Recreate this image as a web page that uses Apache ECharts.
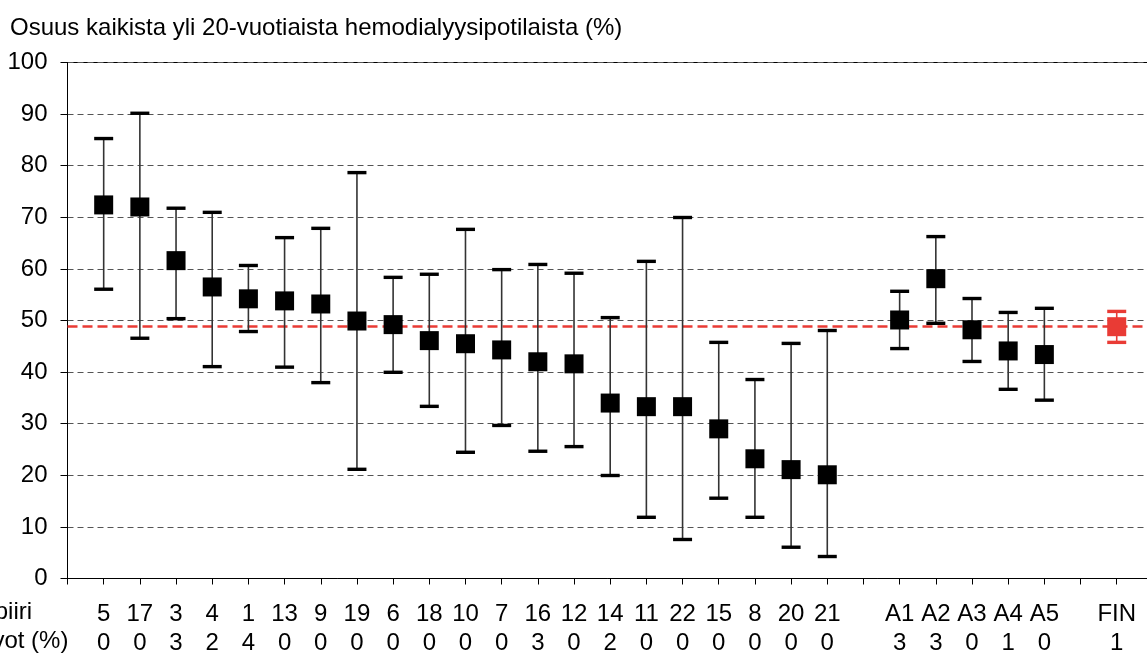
<!DOCTYPE html>
<html>
<head>
<meta charset="utf-8">
<script src="https://cdn.jsdelivr.net/npm/echarts@6/dist/echarts.min.js"></script>
<style>
  html, body { margin: 0; padding: 0; background: #fff; }
  #chart { width: 1147px; height: 655px; }
</style>
</head>
<body>
<div id="chart"></div>
<script>
// ---- Data ----
const categories = ['', '5','17','3','4','1','13','9','19','6','18','10','7','16','12','14','11','22','15','8','20','21','', 'A1','A2','A3','A4','A5','', 'FIN', ''];
const missingPct = ['', '0','0','3','2','4','0','0','0','0','0','0','0','3','0','2','0','0','0','0','0','0','', '3','3','0','1','0','', '1',''];
const means = [null, 72.4,72.0,61.6,56.5,54.2,53.8,53.2,49.9,49.2,46.1,45.5,44.3,42.0,41.6,34.0,33.3,33.3,29.0,23.2,21.1,20.1, null, 50.1,58.1,48.2,44.1,43.4, null, 48.8, null];
const lowers = [null, 56.1,46.6,50.4,41.1,47.9,41.0,38.0,21.2,40.0,33.4,24.5,29.7,24.7,25.6,20.0,11.9,7.6,15.6,11.9,6.1,4.3, null, 44.6,49.5,42.1,36.7,34.6, null, 45.8, null];
const uppers = [null, 85.3,90.2,71.8,71.0,60.7,66.1,67.9,78.7,58.4,59.0,67.7,59.9,60.9,59.2,50.6,61.5,70.0,45.8,38.6,45.6,48.1, null, 55.7,66.3,54.3,51.6,52.4, null, 51.8, null];
const referenceValue = 48.8;
const yTicks = { min: 0, max: 100, interval: 10 };
const titleText = 'Osuus kaikista yli 20-vuotiaista hemodialyysipotilaista (%)';
const rowLabel1 = 'Sairaanhoitopiiri';
const rowLabel2 = 'Puuttuvat arvot (%)';

// ---- Build ----
const FONT = "Arial, 'Liberation Sans', sans-serif";
const RED = '#e93b35';
const errData = [];
categories.forEach((c, i) => {
  if (means[i] != null) errData.push([i, means[i], lowers[i], uppers[i]]);
});

const chart = echarts.init(document.getElementById('chart'));
chart.setOption({
  animation: false,
  textStyle: { fontFamily: FONT },
  grid: { left: 67.5, top: 62.5, right: -5.9, height: 516, show: true, borderColor: '#000', borderWidth: 1, backgroundColor: 'transparent', containLabel: false, outerBoundsMode: 'none' },
  graphic: [
    { type: 'text', left: 10, top: 16, style: { text: titleText, font: '24px ' + FONT, fill: '#000' } },
    { type: 'text', x: -140, y: 612, style: { text: rowLabel1, font: '24px ' + FONT, fill: '#000', verticalAlign: 'middle', align: 'left' } },
    { type: 'text', x: -137, y: 641, style: { text: rowLabel2, font: '24px ' + FONT, fill: '#000', verticalAlign: 'middle', align: 'left' } }
  ],
  xAxis: {
    type: 'category',
    data: categories,
    boundaryGap: false,
    axisLine: { lineStyle: { color: '#000', width: 1 } },
    axisTick: { show: true, alignWithLabel: true, length: 6, interval: 0, lineStyle: { color: '#000' } },
    axisLabel: {
      interval: 0,
      margin: 21,
      color: '#000',
      fontSize: 24,
      lineHeight: 29,
      fontFamily: FONT,
      hideOverlap: false,
      formatter: (v, idx) => v + '\n' + missingPct[idx]
    },
    splitLine: { show: false }
  },
  yAxis: {
    type: 'value',
    min: yTicks.min, max: yTicks.max, interval: yTicks.interval,
    axisLine: { show: true, lineStyle: { color: '#000', width: 1 } },
    axisTick: { show: true, length: 7, lineStyle: { color: '#000' } },
    axisLabel: { color: '#000', fontSize: 24, margin: 20, fontFamily: FONT },
    splitLine: { show: true, lineStyle: { color: '#555', type: [6, 4], width: 1 } }
  },
  series: [
    {
      type: 'custom',
      data: errData,
      encode: { x: 0, y: [1, 2, 3] },
      z: 5,
      renderItem: function (params, api) {
        const i = api.value(0);
        const pm = api.coord([i, api.value(1)]);
        const pl = api.coord([i, api.value(2)]);
        const ph = api.coord([i, api.value(3)]);
        const isFin = categories[i] === 'FIN';
        const col = isFin ? RED : '#000';
        const lineCol = isFin ? RED : '#333';
        const x = pm[0];
        return {
          type: 'group',
          children: [
            { type: 'line', shape: { x1: x, y1: pl[1], x2: x, y2: ph[1] }, style: { stroke: lineCol, lineWidth: 1.6 } },
            { type: 'rect', shape: { x: x - 9.5, y: pl[1] - 1.5, width: 19, height: 3.4 }, style: { fill: col } },
            { type: 'rect', shape: { x: x - 9.5, y: ph[1] - 1.5, width: 19, height: 3.4 }, style: { fill: col } },
            { type: 'rect', shape: { x: x - 9.5, y: pm[1] - 9.5, width: 19, height: 19 }, style: { fill: col } }
          ]
        };
      }
    },
    {
      type: 'line',
      data: [],
      z: 10,
      markLine: {
        silent: true,
        symbol: ['none', 'none'],
        label: { show: false },
        lineStyle: { color: RED, type: [10, 5], width: 2.6 },
        data: [{ yAxis: referenceValue }]
      }
    }
  ]
});
</script>
</body>
</html>
